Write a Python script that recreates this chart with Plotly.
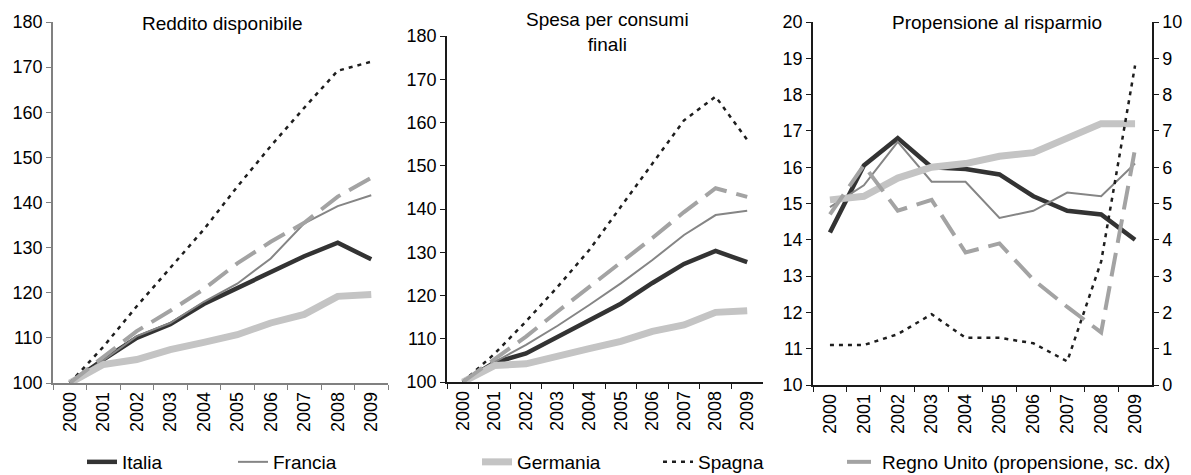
from typing import Any, List

import plotly.graph_objects as go

WIDTH, HEIGHT = 1191, 475
# the html page keeps the default 8px body margin, so the figure is drawn from (8, 8)
PAGE_OFFSET = 8

YEARS = ["2000", "2001", "2002", "2003", "2004", "2005", "2006", "2007", "2008", "2009"]

# Reddito disponibile (indice 2000=100)
reddito_italia = [100, 105.2, 110.0, 113.0, 117.5, 121.0, 124.7, 128.1, 131.1, 127.4]
reddito_francia = [100, 105.0, 110.4, 113.3, 118.0, 122.0, 127.6, 135.4, 139.2, 141.6]
reddito_germania = [100, 104.1, 105.2, 107.4, 109.0, 110.7, 113.3, 115.2, 119.2, 119.6]
reddito_spagna = [100, 108.0, 117.0, 125.5, 134.0, 143.5, 152.5, 161.0, 169.2, 171.2]
reddito_regno_unito = [100, 105.8, 111.5, 116.0, 120.8, 126.5, 131.3, 135.5, 141.3, 145.5]

# Spesa per consumi finali (indice 2000=100)
spesa_italia = [100, 104.5, 106.6, 110.4, 114.3, 118.1, 122.9, 127.3, 130.3, 127.7]
spesa_francia = [100, 104.6, 108.6, 113.0, 117.8, 122.8, 128.2, 134.0, 138.6, 139.6]
spesa_germania = [100, 103.8, 104.2, 106.1, 107.7, 109.4, 111.7, 113.2, 116.1, 116.5]
spesa_spagna = [100, 106.5, 114.0, 122.0, 130.5, 140.5, 150.5, 160.5, 166.0, 156.0]
spesa_regno_unito = [100, 105.2, 110.5, 116.3, 122.0, 127.8, 133.3, 139.3, 144.8, 142.8]

# Propensione al risparmio (%), Regno Unito sulla scala destra
risparmio_italia = [14.2, 16.05, 16.8, 16.0, 15.95, 15.8, 15.2, 14.8, 14.7, 14.0]
risparmio_francia = [14.9, 15.5, 16.7, 15.6, 15.6, 14.6, 14.8, 15.3, 15.2, 16.1]
risparmio_germania = [15.1, 15.2, 15.7, 16.0, 16.1, 16.3, 16.4, 16.8, 17.2, 17.2]
risparmio_spagna = [11.1, 11.1, 11.4, 11.95, 11.3, 11.3, 11.15, 10.65, 13.4, 18.8]
risparmio_regno_unito = [4.7, 6.05, 4.8, 5.1, 3.65, 3.9, 2.9, 2.15, 1.45, 6.5]

NAMES = ["Italia", "Francia", "Germania", "Spagna", "Regno Unito (propensione, sc. dx)"]
PANEL_TITLES = ["Reddito disponibile", "Spesa per consumi<br>finali", "Propensione al risparmio"]

FONT = "Liberation Sans, Arial, sans-serif"
TICK_SIZE = 18
TEXT_SIZE = 19

LINE_STYLE = {
    "Italia": dict(color="#333333", width=4.5, dash="solid"),
    "Francia": dict(color="#858585", width=2, dash="solid"),
    "Germania": dict(color="#c4c4c4", width=7, dash="solid"),
    "Spagna": dict(color="#1e1e1e", width=2.5, dash="4px,5px"),
    "Regno Unito (propensione, sc. dx)": dict(color="#a3a3a3", width=4, dash="24px,10px"),
}

# legend text start (px) for each entry, one legend per entry
LEGEND_TEXT_X = [122, 273, 517, 698, 882]
LEGEND_Y = 462


def px_x(x: float) -> float:
    return (x - PAGE_OFFSET) / (WIDTH - PAGE_OFFSET)


def px_y(y: float) -> float:
    return 1 - (y - PAGE_OFFSET) / (HEIGHT - PAGE_OFFSET)


def x_axis(left: float, right: float, anchor: str, linecolor: str) -> dict:
    return dict(
        domain=[px_x(left), px_x(right)],
        anchor=anchor,
        type="category",
        range=[-0.5, 9.5],
        tickson="boundaries",
        ticks="outside",
        ticklen=5,
        tickcolor=linecolor,
        tickangle=-90,
        showline=True,
        linecolor=linecolor,
        linewidth=1.5,
        showgrid=False,
        zeroline=False,
        automargin=False,
        tickfont=dict(size=TICK_SIZE, color="black"),
    )


def y_axis(top: float, bottom: float, anchor: str, rng: List[float], dtick: float,
           linecolor: str, **extra: Any) -> dict:
    axis = dict(
        domain=[px_y(bottom), px_y(top)],
        anchor=anchor,
        range=rng,
        dtick=dtick,
        ticks="outside",
        ticklen=5,
        tickcolor=linecolor,
        showline=True,
        linecolor=linecolor,
        linewidth=1.5,
        showgrid=False,
        zeroline=False,
        automargin=False,
        tickfont=dict(size=TICK_SIZE, color="black"),
    )
    axis.update(extra)
    return axis


def add_panel(fig: go.Figure, series: List[List[float]], xref: str, yrefs: List[str],
              with_legend: bool) -> None:
    for i, (name, values) in enumerate(zip(NAMES, series)):
        fig.add_trace(
            go.Scatter(
                x=YEARS,
                y=values,
                name=name,
                mode="lines",
                line=LINE_STYLE[name],
                xaxis=xref,
                yaxis=yrefs[i],
                showlegend=with_legend,
                legend="legend" if i == 0 else f"legend{i + 1}",
                hovertemplate=f"{name}<br>%{{x}}: %{{y}}<extra></extra>",
            )
        )


fig = go.Figure()

add_panel(
    fig,
    [reddito_italia, reddito_francia, reddito_germania, reddito_spagna, reddito_regno_unito],
    "x", ["y"] * 5, True,
)
add_panel(
    fig,
    [spesa_italia, spesa_francia, spesa_germania, spesa_spagna, spesa_regno_unito],
    "x2", ["y2"] * 5, False,
)
add_panel(
    fig,
    [risparmio_italia, risparmio_francia, risparmio_germania, risparmio_spagna, risparmio_regno_unito],
    "x3", ["y3", "y3", "y3", "y3", "y4"], False,
)

legends = {}
for i, tx in enumerate(LEGEND_TEXT_X):
    key = "legend" if i == 0 else f"legend{i + 1}"
    legends[key] = dict(
        x=px_x(tx - 40),
        y=px_y(LEGEND_Y),
        xanchor="left",
        yanchor="middle",
        orientation="h",
        bgcolor="rgba(0,0,0,0)",
        borderwidth=0,
        font=dict(size=TEXT_SIZE, color="black"),
    )

title_pos = [(222, 23), (607, 32), (997, 22)]
annotations = [
    dict(
        text=text,
        x=px_x(cx),
        y=px_y(cy),
        xref="paper",
        yref="paper",
        xanchor="center",
        yanchor="middle",
        showarrow=False,
        font=dict(size=TEXT_SIZE, color="black"),
    )
    for text, (cx, cy) in zip(PANEL_TITLES, title_pos)
]

fig.update_layout(
    template="none",
    width=WIDTH - PAGE_OFFSET,
    height=HEIGHT - PAGE_OFFSET,
    margin=dict(l=0, r=0, t=0, b=0, pad=0, autoexpand=False),
    paper_bgcolor="white",
    plot_bgcolor="white",
    font=dict(family=FONT, size=TEXT_SIZE, color="black"),
    showlegend=True,
    annotations=annotations,
    xaxis=x_axis(53, 388, "y", "#808080"),
    yaxis=y_axis(22, 383, "x", [100, 180], 10, "#808080"),
    xaxis2=x_axis(447, 763, "y2", "#1a1a1a"),
    yaxis2=y_axis(36, 382, "x2", [100, 180], 10, "#1a1a1a"),
    xaxis3=x_axis(813, 1152, "y3", "#1a1a1a"),
    yaxis3=y_axis(22, 385, "x3", [10, 20], 1, "#1a1a1a"),
    yaxis4=y_axis(22, 385, "x3", [0, 10], 1, "#1a1a1a", overlaying="y3", side="right"),
    **legends,
)

fig.write_html("out.html")
